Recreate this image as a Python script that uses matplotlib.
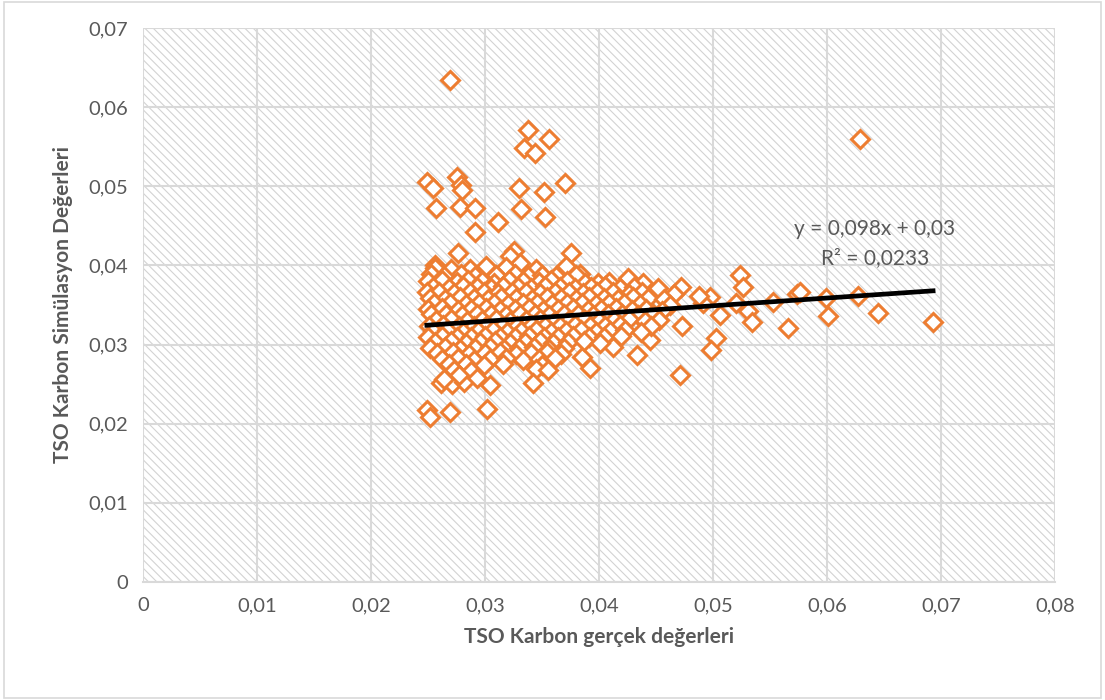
import matplotlib.pyplot as plt
from matplotlib.ticker import FuncFormatter, MultipleLocator

plt.rcParams['font.family'] = ['Lato', 'DejaVu Sans']
plt.rcParams['hatch.linewidth'] = 0.8

# outliers and sparse points
x_sparse = [0.0269, 0.0338, 0.0356, 0.0334, 0.0344, 0.0629, 0.0249, 0.0254, 0.0275, 0.0279,
            0.0280, 0.0330, 0.0352, 0.0370, 0.0257, 0.0278, 0.0291, 0.0332, 0.0311, 0.0353,
            0.0291, 0.0276, 0.0325, 0.0322, 0.0375, 0.0331, 0.0371, 0.0256, 0.0301,
            0.0524, 0.0526, 0.0472, 0.0497, 0.0553, 0.0574, 0.0599, 0.0627, 0.0531, 0.0534,
            0.0506, 0.0566, 0.0601, 0.0645, 0.0693, 0.0503, 0.0498, 0.0471, 0.0473, 0.0491,
            0.0412, 0.0433, 0.0445, 0.0392, 0.0385, 0.0520, 0.0576]
y_sparse = [0.0634, 0.0571, 0.0560, 0.0548, 0.0542, 0.0560, 0.0505, 0.0498, 0.0512, 0.0502,
            0.0495, 0.0498, 0.0493, 0.0504, 0.0473, 0.0474, 0.0473, 0.0471, 0.0455, 0.0461,
            0.0442, 0.0416, 0.0418, 0.0412, 0.0416, 0.0403, 0.0399, 0.0401, 0.0399,
            0.0388, 0.0373, 0.0373, 0.0360, 0.0354, 0.0364, 0.0359, 0.0361, 0.0342, 0.0329,
            0.0337, 0.0321, 0.0336, 0.0340, 0.0329, 0.0308, 0.0293, 0.0262, 0.0323, 0.0352,
            0.0297, 0.0287, 0.0306, 0.0270, 0.0284, 0.0352, 0.0367]

# dense cluster, one line per band of similar y
x_dense = [
    0.0256, 0.0270, 0.0287, 0.0318, 0.0345, 0.0383,
    0.0253, 0.0264, 0.0279, 0.0291, 0.0310, 0.0326, 0.0338, 0.0350, 0.0362, 0.0380, 0.0399, 0.0425,
    0.0250, 0.0262, 0.0275, 0.0285, 0.0297, 0.0308, 0.0321, 0.0333, 0.0347, 0.0358, 0.0372, 0.0388, 0.0409, 0.0439,
    0.0254, 0.0268, 0.0281, 0.0293, 0.0305, 0.0316, 0.0329, 0.0340, 0.0353, 0.0366, 0.0379, 0.0393, 0.0405, 0.0418, 0.0431, 0.0452,
    0.0249, 0.0260, 0.0273, 0.0287, 0.0299, 0.0311, 0.0324, 0.0336, 0.0348, 0.0361, 0.0374, 0.0386, 0.0398, 0.0412, 0.0426, 0.0438, 0.0466,
    0.0252, 0.0265, 0.0278, 0.0290, 0.0303, 0.0314, 0.0327, 0.0341, 0.0354, 0.0367, 0.0380, 0.0391, 0.0404, 0.0417, 0.0430, 0.0443, 0.0457, 0.0488,
    0.0255, 0.0269, 0.0283, 0.0295, 0.0308, 0.0320, 0.0333, 0.0346, 0.0359, 0.0372, 0.0385, 0.0397, 0.0409, 0.0422, 0.0436, 0.0462,
    0.0250, 0.0262, 0.0276, 0.0288, 0.0301, 0.0313, 0.0326, 0.0339, 0.0351, 0.0364, 0.0377, 0.0390, 0.0402, 0.0415, 0.0429, 0.0441, 0.0455,
    0.0253, 0.0266, 0.0280, 0.0293, 0.0305, 0.0318, 0.0331, 0.0344, 0.0356, 0.0369, 0.0382, 0.0395, 0.0408, 0.0420, 0.0434, 0.0447,
    0.0257, 0.0270, 0.0284, 0.0297, 0.0310, 0.0322, 0.0336, 0.0348, 0.0361, 0.0374, 0.0387, 0.0400, 0.0413, 0.0426, 0.0440, 0.0453,
    0.0251, 0.0263, 0.0277, 0.0290, 0.0302, 0.0315, 0.0328, 0.0341, 0.0353, 0.0366, 0.0379, 0.0392, 0.0405, 0.0418, 0.0446,
    0.0254, 0.0267, 0.0281, 0.0294, 0.0307, 0.0319, 0.0332, 0.0345, 0.0358, 0.0371, 0.0384, 0.0397, 0.0410, 0.0423, 0.0437,
    0.0250, 0.0262, 0.0275, 0.0288, 0.0300, 0.0313, 0.0326, 0.0339, 0.0352, 0.0364, 0.0377, 0.0391, 0.0404, 0.0419,
    0.0256, 0.0270, 0.0283, 0.0296, 0.0309, 0.0322, 0.0335, 0.0348, 0.0360, 0.0373, 0.0387, 0.0401,
    0.0252, 0.0265, 0.0278, 0.0291, 0.0304, 0.0317, 0.0330, 0.0343, 0.0356, 0.0369,
    0.0258, 0.0272, 0.0286, 0.0300, 0.0313, 0.0327, 0.0340, 0.0354, 0.0367,
    0.0262, 0.0276, 0.0290, 0.0304, 0.0318, 0.0333, 0.0347, 0.0361,
    0.0268, 0.0283, 0.0299, 0.0316, 0.0350,
    0.0273, 0.0288, 0.0345,
    0.0261, 0.0271, 0.0282, 0.0293, 0.0304, 0.0342, 0.0355, 0.0264, 0.0277,
    0.0249, 0.0252, 0.0269, 0.0302,
]
y_dense = [
    0.0397, 0.0395, 0.0396, 0.0398, 0.0396, 0.0389,
    0.0389, 0.0387, 0.0389, 0.0386, 0.0388, 0.0389, 0.0387, 0.0388, 0.0386, 0.0388, 0.0378, 0.0384,
    0.0380, 0.0381, 0.0379, 0.0381, 0.0380, 0.0378, 0.0381, 0.0380, 0.0379, 0.0381, 0.0380, 0.0378, 0.0379, 0.0378,
    0.0373, 0.0372, 0.0374, 0.0373, 0.0371, 0.0374, 0.0373, 0.0372, 0.0374, 0.0373, 0.0371, 0.0373, 0.0374, 0.0372, 0.0373, 0.0371,
    0.0366, 0.0367, 0.0365, 0.0366, 0.0367, 0.0365, 0.0366, 0.0367, 0.0365, 0.0366, 0.0367, 0.0365, 0.0366, 0.0367, 0.0364, 0.0366, 0.0364,
    0.0359, 0.0358, 0.0360, 0.0359, 0.0358, 0.0360, 0.0359, 0.0358, 0.0360, 0.0359, 0.0358, 0.0360, 0.0359, 0.0358, 0.0360, 0.0359, 0.0357, 0.0361,
    0.0352, 0.0353, 0.0351, 0.0352, 0.0353, 0.0351, 0.0352, 0.0353, 0.0351, 0.0352, 0.0353, 0.0351, 0.0352, 0.0353, 0.0351, 0.0350,
    0.0345, 0.0346, 0.0344, 0.0345, 0.0346, 0.0344, 0.0345, 0.0346, 0.0344, 0.0345, 0.0346, 0.0344, 0.0345, 0.0346, 0.0344, 0.0345, 0.0343,
    0.0338, 0.0339, 0.0337, 0.0338, 0.0339, 0.0337, 0.0338, 0.0339, 0.0337, 0.0338, 0.0339, 0.0337, 0.0338, 0.0339, 0.0337, 0.0338,
    0.0331, 0.0332, 0.0330, 0.0331, 0.0332, 0.0330, 0.0331, 0.0332, 0.0330, 0.0331, 0.0332, 0.0330, 0.0331, 0.0332, 0.0330, 0.0331,
    0.0324, 0.0325, 0.0323, 0.0324, 0.0325, 0.0323, 0.0324, 0.0325, 0.0323, 0.0324, 0.0325, 0.0323, 0.0324, 0.0325, 0.0323,
    0.0317, 0.0318, 0.0316, 0.0317, 0.0318, 0.0316, 0.0317, 0.0318, 0.0316, 0.0317, 0.0318, 0.0316, 0.0317, 0.0318, 0.0316,
    0.0310, 0.0311, 0.0309, 0.0310, 0.0311, 0.0309, 0.0310, 0.0311, 0.0309, 0.0310, 0.0311, 0.0309, 0.0310, 0.0311,
    0.0303, 0.0304, 0.0302, 0.0303, 0.0304, 0.0302, 0.0303, 0.0304, 0.0302, 0.0303, 0.0304, 0.0302,
    0.0296, 0.0297, 0.0295, 0.0296, 0.0297, 0.0295, 0.0296, 0.0297, 0.0295, 0.0296,
    0.0289, 0.0290, 0.0288, 0.0289, 0.0290, 0.0288, 0.0289, 0.0290, 0.0288,
    0.0282, 0.0283, 0.0281, 0.0282, 0.0283, 0.0281, 0.0282, 0.0283,
    0.0275, 0.0276, 0.0274, 0.0275, 0.0274,
    0.0268, 0.0267, 0.0269,
    0.0251, 0.0250, 0.0253, 0.0258, 0.0249, 0.0251, 0.0268, 0.0256, 0.0262,
    0.0217, 0.0209, 0.0215, 0.0219,
]

x_vals = x_sparse + x_dense
y_vals = y_sparse + y_dense

# trendline as given in the chart
slope, intercept = 0.098, 0.03
trend_x = [min(x_vals), max(x_vals)]
trend_y = [slope * v + intercept for v in trend_x]

grey = '#595959'
fig = plt.figure(figsize=(11.05, 7.0), dpi=100)
ax = fig.add_axes([0.1294, 0.1686, 0.8254, 0.7914])
fig.patches.append(plt.Rectangle((0.004, 0.003), 0.992, 0.994, transform=fig.transFigure,
                                 fill=False, edgecolor='#d9d9d9', linewidth=1.2))

ax.patch.set_facecolor('white')
ax.patch.set_hatch('\\\\\\\\')
ax.patch.set_edgecolor('#d3d3d3')
ax.patch.set_linewidth(0)

ax.plot(x_vals, y_vals, linestyle='none', marker='D', markersize=9.5,
        markerfacecolor='white', markeredgecolor='#ED7D31', markeredgewidth=2.2, zorder=3)
ax.plot(trend_x, trend_y, color='black', linewidth=3.4, zorder=4)

ax.set_xlim(0, 0.08)
ax.set_ylim(0, 0.07)
ax.xaxis.set_major_locator(MultipleLocator(0.01))
ax.yaxis.set_major_locator(MultipleLocator(0.01))
fmt = FuncFormatter(lambda v, p: '0' if abs(v) < 1e-9 else ('%.2f' % v).replace('.', ','))
ax.xaxis.set_major_formatter(fmt)
ax.yaxis.set_major_formatter(fmt)
ax.grid(True, color='#d9d9d9', linewidth=1.5, zorder=1)
ax.set_axisbelow(True)
for side in ['top', 'right', 'left']:
    ax.spines[side].set_visible(False)
ax.spines['bottom'].set_color('#d9d9d9')
ax.spines['bottom'].set_linewidth(1.5)
ax.tick_params(length=0, labelsize=14.5, labelcolor=grey, pad=11)

ax.set_xlabel('TSO Karbon gerçek değerleri', fontsize=15, fontweight='bold', color=grey, labelpad=9)
ax.set_ylabel('TSO Karbon Simülasyon Değerleri', fontsize=15, fontweight='bold', color=grey, labelpad=11)

ax.text(0.0642, 0.0446, 'y = 0,098x + 0,03', ha='center', va='center', fontsize=15, color=grey)
ax.text(0.0642, 0.0409, 'R² = 0,0233', ha='center', va='center', fontsize=15, color=grey)

fig.savefig('out.png', dpi=100)
